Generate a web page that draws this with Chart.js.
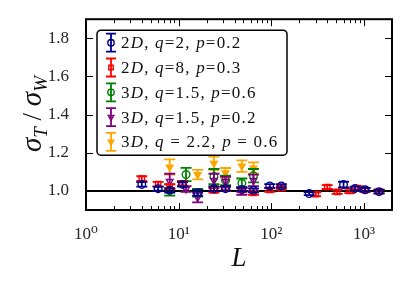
<!DOCTYPE html>
<html>
<head>
<meta charset="utf-8">
<script src="https://cdn.jsdelivr.net/npm/chart.js@4"></script>
<style>
  html, body { margin: 0; padding: 0; background: #fff; }
  #wrap { width: 408px; height: 286px; }
</style>
</head>
<body>
<div id="wrap"><canvas id="chart" width="408" height="286"></canvas></div>
<script>
// axis ranges and ticks
const xRange = [1, 2000];
const yRange = [0.9, 1.9];
const xTicks = [1, 10, 100, 1000];
const xTickLabels = ["10\u2070", "10\u00b9", "10\u00b2", "10\u00b3"];
const yTicks = [1.0, 1.2, 1.4, 1.6, 1.8];
const yTickLabels = ["1.0", "1.2", "1.4", "1.6", "1.8"];
const refValue = 1.0;

const seriesLabels = [
    "2D, q=2, p=0.2",
    "2D, q=8, p=0.3",
    "3D, q=1.5, p=0.6",
    "3D, q=1.5, p=0.2",
    "3D, q = 2.2, p = 0.6"
];

// 2D, q=2, p=0.2
const lBlue = [4, 6, 8, 11, 16, 24, 32, 48, 64, 96, 128, 256, 600, 800, 1024, 1450];
const yBlue = [1.034, 1.012, 1.003, 1.034, 0.99, 1.012, 1.012, 1.008, 1.003, 1.026, 1.026, 0.986, 1.033, 1.013, 1.006, 0.996];
const eBlue = [0.012, 0.01, 0.012, 0.012, 0.015, 0.012, 0.01, 0.01, 0.01, 0.01, 0.01, 0.008, 0.015, 0.01, 0.01, 0.01];

// 2D, q=8, p=0.3
const lRed = [4, 6, 8, 11, 24, 32, 48, 64, 96, 128, 300, 400, 512, 700, 850, 1024, 1450];
const yRed = [1.065, 1.035, 1.022, 1.04, 1.003, 1.012, 1.005, 0.99, 1.005, 1.015, 0.983, 1.02, 0.995, 1.0, 1.015, 1.005, 0.998];
const eRed = [0.012, 0.012, 0.012, 0.012, 0.012, 0.01, 0.01, 0.01, 0.01, 0.01, 0.01, 0.01, 0.01, 0.012, 0.01, 0.01, 0.01];

// 3D, q=1.5, p=0.6
const lGreen = [8, 12, 16, 24, 32, 48, 64];
const yGreen = [1.005, 1.086, 0.99, 1.075, 1.055, 1.04, 1.08];
const eGreen = [0.03, 0.035, 0.02, 0.04, 0.025, 0.025, 0.035];

// 3D, q=1.5, p=0.2
const lPurple = [8, 12, 16, 24, 32, 48, 64];
const yPurple = [1.05, 1.01, 0.965, 1.055, 1.05, 1.0, 1.055];
const ePurple = [0.04, 0.015, 0.025, 0.035, 0.025, 0.02, 0.03];

// 3D, q=2.2, p=0.6
const lOrange = [8, 16, 24, 32, 48, 64];
const yOrange = [1.125, 1.085, 1.145, 1.095, 1.13, 1.12];
const eOrange = [0.04, 0.025, 0.035, 0.025, 0.03, 0.03];

const SERIF = '"Liberation Serif", "DejaVu Serif", serif';
const MARK = 3.8;

function points(xs, ys) {
    return xs.map((x, i) => ({ x: x, y: ys[i] }));
}

function series(label, xs, ys, errs, color, style, rotation, filled, order) {
    return {
        type: 'scatter',
        label: label,
        data: points(xs, ys),
        errors: errs,
        borderColor: color,
        backgroundColor: filled ? color : 'rgba(255,255,255,0)',
        pointStyle: style,
        pointRotation: rotation,
        pointRadius: MARK,
        pointBorderWidth: 1.4,
        order: order
    };
}

const datasets = [
    {
        type: 'line',
        data: [{ x: xRange[0], y: refValue }, { x: xRange[1], y: refValue }],
        borderColor: '#000',
        borderWidth: 2,
        pointRadius: 0,
        order: 10
    },
    series(seriesLabels[0], lBlue, yBlue, eBlue, '#00008b', 'circle', 0, false, 0),
    series(seriesLabels[1], lRed, yRed, eRed, '#ff0000', 'rect', 0, false, 1),
    series(seriesLabels[2], lGreen, yGreen, eGreen, '#008000', 'circle', 0, false, 4),
    series(seriesLabels[3], lPurple, yPurple, ePurple, '#800080', 'triangle', 180, false, 3),
    series(seriesLabels[4], lOrange, yOrange, eOrange, '#ffa500', 'triangle', 180, true, 5)
];

// error bars drawn just before each dataset's markers
const errorBars = {
    id: 'errorBars',
    beforeDatasetDraw(chart, args) {
        const ds = chart.data.datasets[args.index];
        if (!ds.errors) return;
        const ctx = chart.ctx;
        const xs = chart.scales.x, ys = chart.scales.y;
        ctx.save();
        ctx.strokeStyle = ds.borderColor;
        ctx.lineWidth = 1.8;
        ds.data.forEach((p, i) => {
            const px = xs.getPixelForValue(p.x);
            const top = ys.getPixelForValue(p.y + ds.errors[i]);
            const bot = ys.getPixelForValue(p.y - ds.errors[i]);
            ctx.beginPath();
            ctx.moveTo(px, top); ctx.lineTo(px, bot);
            ctx.moveTo(px - 5.5, top); ctx.lineTo(px + 5.5, top);
            ctx.moveTo(px - 5.5, bot); ctx.lineTo(px + 5.5, bot);
            ctx.stroke();
        });
        ctx.restore();
    }
};

// frame with inward ticks, like matplotlib
const frame = {
    id: 'frame',
    afterDatasetsDraw(chart) {
        const { ctx, chartArea: a } = chart;
        const xs = chart.scales.x, ys = chart.scales.y;
        ctx.save();
        ctx.strokeStyle = '#000';
        ctx.lineWidth = 1;
        ctx.beginPath();
        yTicks.forEach(v => {
            const py = Math.round(ys.getPixelForValue(v)) + 0.5;
            ctx.moveTo(a.left, py); ctx.lineTo(a.left + 7, py);
            ctx.moveTo(a.right, py); ctx.lineTo(a.right - 7, py);
        });
        for (let d = 1; d <= 1000; d *= 10) {
            for (let k = 1; k <= 9; k++) {
                const v = k * d;
                if (v < xRange[0] || v > xRange[1]) continue;
                const len = k === 1 ? 7 : 4;
                const px = Math.round(xs.getPixelForValue(v)) + 0.5;
                ctx.moveTo(px, a.bottom); ctx.lineTo(px, a.bottom - len);
                ctx.moveTo(px, a.top); ctx.lineTo(px, a.top + len);
            }
        }
        ctx.stroke();
        ctx.lineWidth = 2;
        ctx.strokeRect(a.left, a.top, a.right - a.left, a.bottom - a.top);
        ctx.restore();
    }
};

// text with letters in italic (math style)
function mathRuns(text) {
    const runs = [];
    for (const ch of text) {
        const it = /[A-Za-z]/.test(ch);
        const last = runs[runs.length - 1];
        if (last && last.it === it) last.t += ch;
        else runs.push({ t: ch, it: it });
    }
    return runs;
}

function drawMath(ctx, text, x, y, size) {
    ctx.letterSpacing = '1.2px';
    mathRuns(text).forEach(r => {
        ctx.font = (r.it ? 'italic ' : '') + size + 'px ' + SERIF;
        ctx.fillText(r.t, x, y);
        x += ctx.measureText(r.t).width;
    });
    ctx.letterSpacing = '0px';
}

const legendBox = {
    id: 'legendBox',
    afterDraw(chart) {
        const { ctx, chartArea: a } = chart;
        const bx = a.left + 11, by = a.top + 11, bw = 190, bh = 125;
        ctx.save();
        ctx.fillStyle = '#fff';
        ctx.strokeStyle = '#000';
        ctx.lineWidth = 1.5;
        ctx.beginPath();
        ctx.roundRect(bx, by, bw, bh, 4);
        ctx.fill();
        ctx.stroke();
        const sets = chart.data.datasets.filter(d => d.errors);
        sets.forEach((ds, i) => {
            const cy = by + 12.5 + i * 24.8;
            const gx = bx + 14;
            ctx.strokeStyle = ds.borderColor;
            ctx.lineWidth = 1.8;
            ctx.beginPath();
            ctx.moveTo(gx, cy - 9); ctx.lineTo(gx, cy + 9);
            ctx.moveTo(gx - 5, cy - 9); ctx.lineTo(gx + 5, cy - 9);
            ctx.moveTo(gx - 5, cy + 9); ctx.lineTo(gx + 5, cy + 9);
            ctx.stroke();
            ctx.fillStyle = ds.backgroundColor;
            ctx.lineWidth = 1.4;
            Chart.helpers.drawPoint(ctx, {
                pointStyle: ds.pointStyle, radius: MARK - 0.6, rotation: ds.pointRotation, borderWidth: 1.4
            }, gx, cy);
            ctx.fillStyle = '#111';
            ctx.textBaseline = 'middle';
            drawMath(ctx, ds.label, bx + 24, cy + 1, 17);
        });
        ctx.restore();
    }
};

// y axis title: sigma_T / sigma_W, rotated
const yTitle = {
    id: 'yTitle',
    afterDraw(chart) {
        const ctx = chart.ctx;
        const parts = [
            { t: '\u03c3', f: 'italic 29px ' + SERIF, dy: 0 },
            { t: 'T', f: 'italic 19px ' + SERIF, dy: 6 },
            { t: ' / ', f: '27px ' + SERIF, dy: 0 },
            { t: '\u03c3', f: 'italic 29px ' + SERIF, dy: 0 },
            { t: 'W', f: 'italic 19px ' + SERIF, dy: 6 }
        ];
        ctx.save();
        let w = 0;
        parts.forEach(p => { ctx.font = p.f; p.w = ctx.measureText(p.t).width; w += p.w; });
        ctx.translate(41, 114);
        ctx.rotate(-Math.PI / 2);
        ctx.fillStyle = '#111';
        ctx.textBaseline = 'alphabetic';
        let x = -w / 2;
        parts.forEach(p => { ctx.font = p.f; ctx.fillText(p.t, x, p.dy); x += p.w; });
        ctx.restore();
    }
};

new Chart(document.getElementById('chart'), {
    data: { datasets: datasets },
    options: {
        responsive: false,
        animation: false,
        devicePixelRatio: 1,
        layout: { padding: { left: 0, right: 16, top: 15, bottom: 0 } },
        plugins: { legend: { display: false }, tooltip: { enabled: false } },
        scales: {
            x: {
                type: 'logarithmic',
                min: xRange[0],
                max: xRange[1],
                grid: { display: false },
                border: { display: false },
                afterBuildTicks: s => { s.ticks = xTicks.map(v => ({ value: v })); },
                afterFit: s => { s.height = 76; },
                ticks: {
                    autoSkip: false,
                    maxRotation: 0,
                    padding: 6,
                    color: '#262626',
                    font: { family: SERIF, size: 17 },
                    callback: (v, i) => xTickLabels[i]
                },
                title: {
                    display: true,
                    text: 'L',
                    color: '#111',
                    font: { family: SERIF, size: 27, style: 'italic' },
                    padding: { top: 0, bottom: 11 }
                }
            },
            y: {
                type: 'linear',
                min: yRange[0],
                max: yRange[1],
                grid: { display: false },
                border: { display: false },
                afterBuildTicks: s => { s.ticks = yTicks.map(v => ({ value: v })); },
                afterFit: s => { s.width = 86; },
                ticks: {
                    padding: 9,
                    color: '#262626',
                    font: { family: SERIF, size: 17 },
                    callback: (v, i) => yTickLabels[i]
                }
            }
        }
    },
    plugins: [errorBars, frame, legendBox, yTitle]
});
</script>
</body>
</html>
